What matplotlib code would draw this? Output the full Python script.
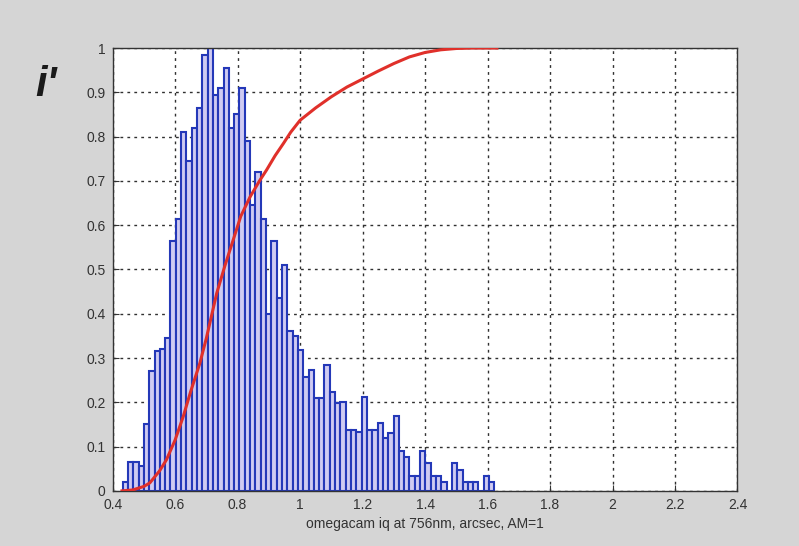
import numpy as np
import matplotlib
matplotlib.use('Agg')
import matplotlib.pyplot as plt

# histogram (normalised to peak), bin width ~0.017 starting at 0.432
bin_start = 0.432
bin_width = 0.017
heights = [0.02, 0.065, 0.065, 0.055, 0.15, 0.27, 0.315, 0.32, 0.345, 0.565,
           0.615, 0.81, 0.745, 0.82, 0.865, 0.985, 1.0, 0.895, 0.91, 0.955,
           0.82, 0.85, 0.91, 0.79, 0.645, 0.72, 0.615, 0.40, 0.565, 0.435,
           0.51, 0.36, 0.35, 0.318, 0.258, 0.273, 0.21, 0.21, 0.284, 0.224,
           0.198, 0.2, 0.138, 0.138, 0.134, 0.213, 0.138, 0.138, 0.153, 0.12,
           0.13, 0.17, 0.09, 0.077, 0.033, 0.033, 0.09, 0.063, 0.033, 0.033,
           0.021, 0.0, 0.063, 0.048, 0.021, 0.021, 0.021, 0.0, 0.033, 0.021]

# cumulative curve
cdf_x = [0.43, 0.464, 0.50, 0.519, 0.55, 0.572, 0.60, 0.626, 0.65, 0.679, 0.70,
         0.733, 0.76, 0.786, 0.81, 0.84, 0.87, 0.893, 0.92, 0.947, 0.97, 1.0,
         1.05, 1.1, 1.15, 1.2, 1.25, 1.3, 1.35, 1.4, 1.45, 1.5, 1.55, 1.63]
cdf_y = [0.0, 0.002, 0.01, 0.018, 0.045, 0.07, 0.115, 0.168, 0.225, 0.288, 0.345,
         0.446, 0.51, 0.567, 0.62, 0.664, 0.70, 0.725, 0.757, 0.785, 0.81, 0.837,
         0.865, 0.89, 0.912, 0.93, 0.948, 0.965, 0.98, 0.99, 0.996, 0.999, 1.0, 1.0]

xticks = [0.4, 0.6, 0.8, 1.0, 1.2, 1.4, 1.6, 1.8, 2.0, 2.2, 2.4]
xticklabels = ['0.4', '0.6', '0.8', '1', '1.2', '1.4', '1.6', '1.8', '2', '2.2', '2.4']
yticks = [0, 0.1, 0.2, 0.3, 0.4, 0.5, 0.6, 0.7, 0.8, 0.9, 1.0]
yticklabels = ['0', '0.1', '0.2', '0.3', '0.4', '0.5', '0.6', '0.7', '0.8', '0.9', '1']

plt.rcParams['font.family'] = ['Liberation Sans', 'DejaVu Sans']

bg = '#d5d5d5'
fig = plt.figure(figsize=(7.99, 5.46), dpi=100, facecolor=bg)
ax = fig.add_axes([0.141, 0.101, 0.782, 0.811])
ax.set_facecolor('white')

lefts = bin_start + bin_width * np.arange(len(heights))
ax.bar(lefts, heights, width=bin_width, align='edge',
       facecolor='#cfcbf2', edgecolor='#2438b8', linewidth=1.5, zorder=2)

ax.plot(cdf_x, cdf_y, color='#e0302a', linewidth=2.2, zorder=3)

ax.set_xlim(0.4, 2.4)
ax.set_ylim(0, 1)
ax.set_xticks(xticks)
ax.set_xticklabels(xticklabels)
ax.set_yticks(yticks)
ax.set_yticklabels(yticklabels)
ax.tick_params(direction='in', length=4, labelsize=10, colors='#333333', pad=5)
ax.grid(True, color='#303030', linestyle=(0, (2, 3)), linewidth=1.0, zorder=1)
ax.set_axisbelow(True)
for s in ax.spines.values():
    s.set_color('#333333')
    s.set_linewidth(1.0)

ax.set_xlabel('omegacam iq at 756nm, arcsec, AM=1', fontsize=10, color='#333333', labelpad=4)

fig.text(0.058, 0.845, "i'", fontsize=30, fontweight='bold', fontstyle='italic',
         color='#1a1a1a', ha='center', va='center')

fig.savefig('out.png', dpi=100, facecolor=bg)
